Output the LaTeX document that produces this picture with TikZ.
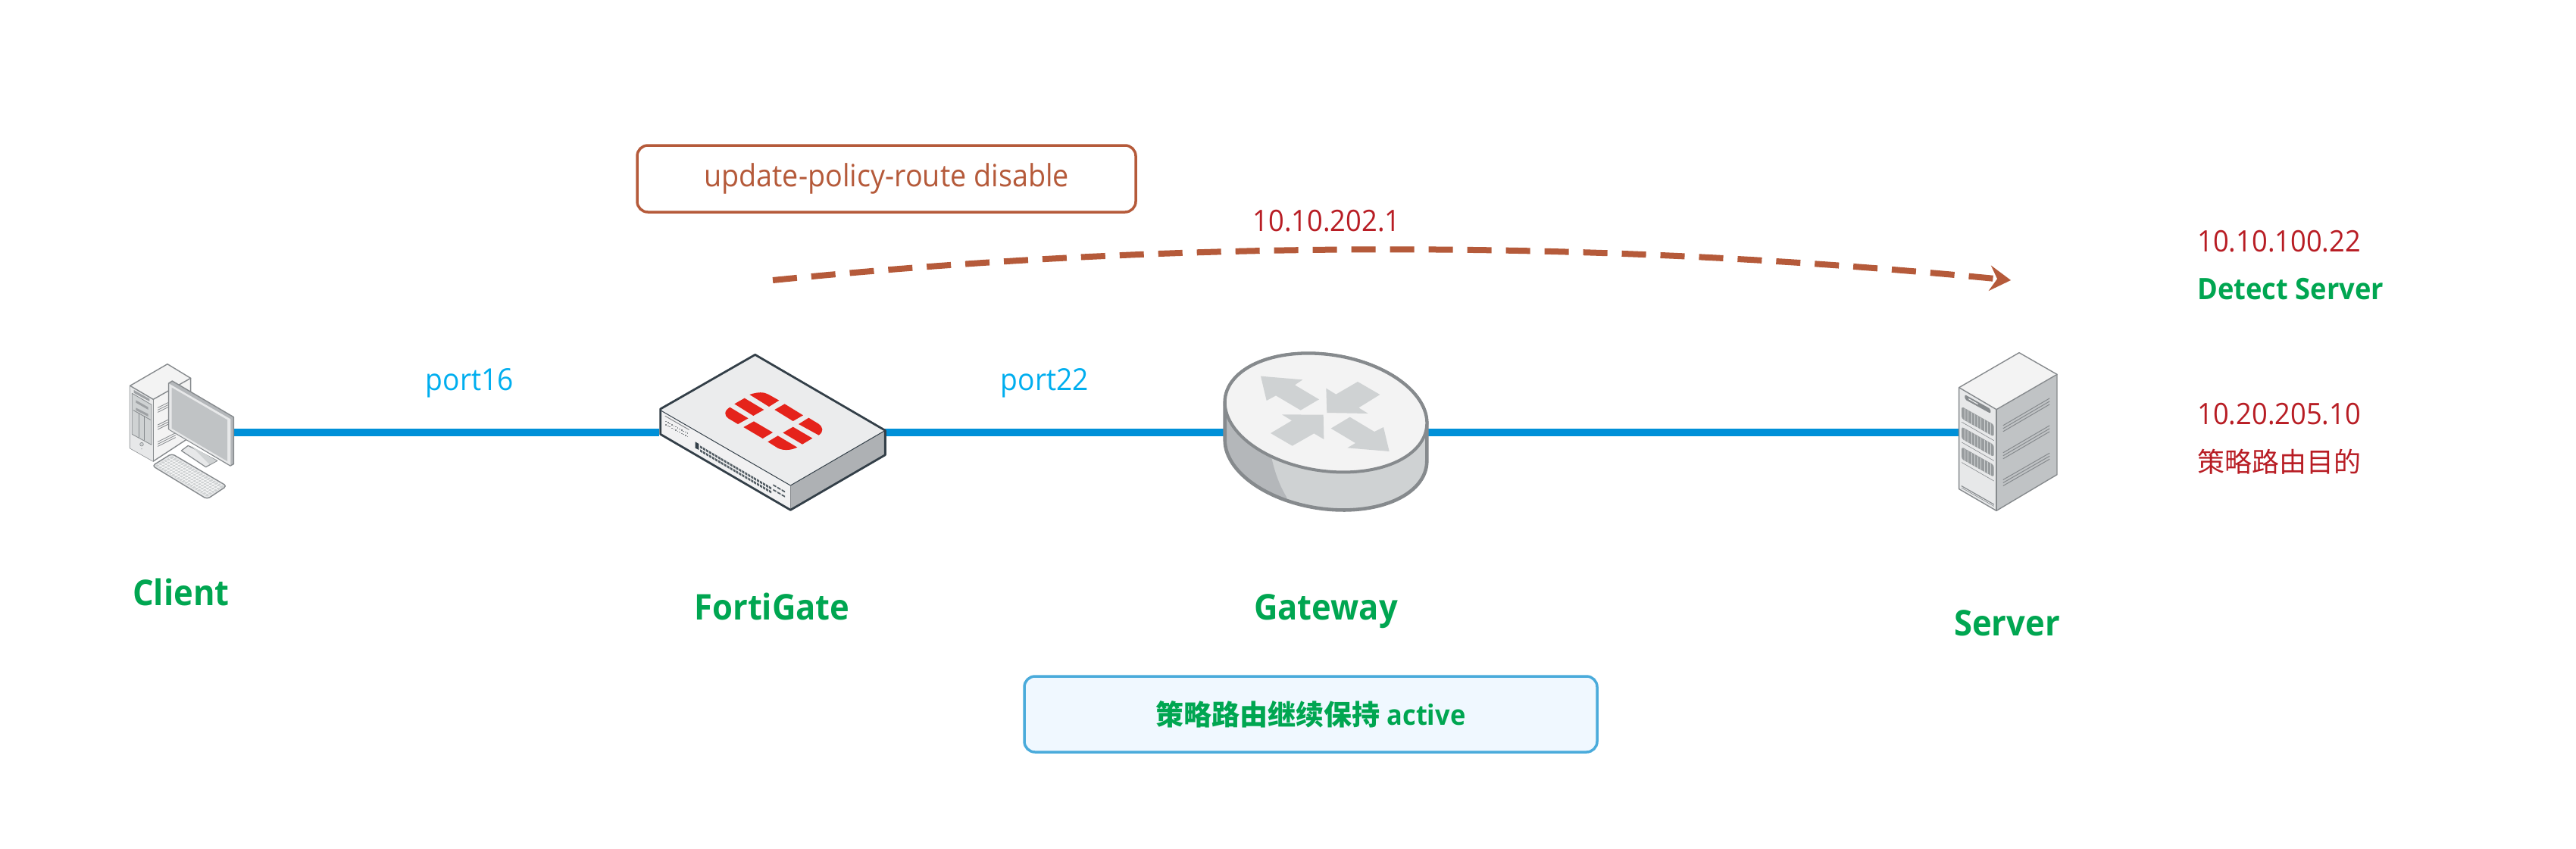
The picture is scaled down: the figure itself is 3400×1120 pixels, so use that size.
\documentclass[tikz,border=0pt]{standalone}
\usepackage{fontspec}
\setmainfont{Open Sans}
\newfontfamily\uifont[FakeStretch=0.93]{Open Sans}
\newfontfamily\zhfont{Noto Sans CJK SC}
\usetikzlibrary{arrows.meta,calc}
\definecolor{linkblue}{HTML}{0090D8}
\definecolor{brick}{HTML}{B55A3A}
\definecolor{okgreen}{HTML}{00A651}
\definecolor{addrred}{HTML}{B81D24}
\definecolor{portblue}{HTML}{00AEEF}
\definecolor{iconline}{HTML}{868A8D}
\definecolor{fwdark}{HTML}{333F48}
\definecolor{fwred}{HTML}{E5231B}
\definecolor{graytop}{HTML}{F3F3F3}
\definecolor{graypale}{HTML}{E7E8E9}
\definecolor{graymid}{HTML}{CFD2D3}
\definecolor{graydark}{HTML}{B4B7BA}
\definecolor{grayside}{HTML}{C0C3C5}
\definecolor{fwtop}{HTML}{EBECED}
\definecolor{fwfront}{HTML}{F1F1F2}
\definecolor{fwside}{HTML}{AEB1B4}
\definecolor{activeline}{HTML}{4AABDB}
\definecolor{activefill}{HTML}{F0F8FF}
\tikzset{
  pxgrid/.style={x=0.5pt,y=-0.5pt},
  icon/.style={x=0.166667pt,y=-0.166667pt,line join=round,line cap=round},
  link/.style={draw=linkblue,line width=5pt},
  devicebox/.style={inner sep=0pt,outer sep=0pt,minimum height=60pt},
  devname/.style={font=\uifont\bfseries\fontsize{23.4}{28}\selectfont,text=okgreen,inner sep=0pt},
  portlabel/.style={font=\uifont\fontsize{20}{24}\selectfont,text=portblue,inner sep=0pt},
  addr/.style={font=\uifont\fontsize{19.5}{24}\selectfont,text=addrred,inner sep=0pt},
  policybox/.style={draw=brick,line width=1.75pt,rounded corners=7pt,minimum width=329pt,minimum height=44pt,inner sep=0pt,outer sep=0pt,text=brick,font=\uifont\fontsize{20.3}{24}\selectfont},
  activebox/.style={draw=activeline,fill=activefill,line width=1.75pt,rounded corners=7pt,minimum width=378pt,minimum height=50pt,inner sep=0pt,outer sep=0pt,text=okgreen,font=\uifont\bfseries\fontsize{18.5}{22}\selectfont},
  routepath/.style={draw=brick,line width=4pt,dash pattern=on 16pt off 9.5pt},
  gline/.style={draw=iconline,line width=0.7pt},
}
\begin{document}
\begin{tikzpicture}[pxgrid,
  declare function={ex(\t)=480+403*cos(\t)*cos(8.7)-230*sin(\t)*sin(8.7);
                     ey(\t)=255+403*cos(\t)*sin(8.7)+230*sin(\t)*cos(8.7);}]
\useasboundingbox (0,0) rectangle (3400,1120);
\fill[white] (0,0) rectangle (3400,1120);

% anchors of the devices
\node[devicebox,minimum width=65pt]  (client) at (240,571) {};
\node[devicebox,minimum width=140pt] (fgt)    at (1010,571) {};
\node[devicebox,minimum width=135pt] (gw)     at (1750,571) {};
\node[devicebox,minimum width=40pt]  (srv)    at (2630,571) {};

% links
\draw[link] (client.east) -- (fgt.west);
\draw[link] (fgt.east) -- (gw.west);
\draw[link] (gw.east) -- (srv.west);

% client
\begin{scope}[shift={(120,420)},icon]
  \filldraw[fill=graytop,draw=iconline,line width=0.7pt] (155,268) -- (303,182) -- (395,238) -- (395,470) -- (247,567) -- (155,515) -- cycle;
  \fill[graypale] (155,268) -- (247,322) -- (247,567) -- (155,515) -- cycle;
  \draw[gline] (155,268) -- (247,322) -- (395,238);
  \draw[gline] (247,322) -- (247,567);
  \fill[iconline!80] (170,285) -- (232,320) -- (232,330) -- (170,296) -- cycle;
  \filldraw[fill=graymid,draw=iconline,line width=0.4pt] (163,298) -- (240,343) -- (240,502) -- (163,460) -- cycle;
  \fill[iconline!80] (178,325) -- (227,353) -- (227,363) -- (178,335) -- cycle;
  \fill[iconline!80] (178,355) -- (227,380) -- (227,390) -- (178,365) -- cycle;
  \draw[iconline,line width=0.4pt] (168,365) -- (236,403);
  \draw[iconline,line width=0.4pt] (189,377) -- (189,472) (210,389) -- (210,484);
  \filldraw[fill=graymid,draw=iconline,line width=0.3pt] (201,500) circle [radius=7];
  \fill[iconline] (201,518) circle [radius=2];
  \foreach \d in {0,9,18}{
    \draw[iconline,line width=0.4pt] (265,{355+\d}) -- (305,{335+\d});
    \draw[iconline,line width=0.4pt] (265,{423+\d}) -- (305,{403+\d});
    \draw[iconline,line width=0.4pt] (265,{490+\d}) -- (335,{455+\d});
  }
  % monitor stand
  \filldraw[fill=graypale,draw=iconline,line width=0.6pt] (358,525) -- (385,505) -- (500,565) -- (455,590) -- cycle;
  \fill[graymid] (395,505) -- (470,580) -- (498,565) -- cycle;
  % monitor
  \filldraw[fill=graydark,draw=iconline,line width=0.7pt] (308,258) -- (322,249) -- (565,392) -- (565,578) -- (552,585) -- (308,440) -- cycle;
  \fill[graypale] (310,260) -- (553,400) -- (553,583) -- (310,440) -- cycle;
  \fill[grayside] (320,275) -- (540,403) -- (540,567) -- (320,437) -- cycle;
  % keyboard
  \filldraw[fill=graypale,draw=iconline,line width=0.7pt,rounded corners=2pt] (243,585) -- (320,537) -- (538,665) -- (460,717) -- cycle;
  \coordinate (kp) at (255,585);
  \coordinate (kq) at (322,547);
  \coordinate (kr) at (528,667);
  \coordinate (ks) at (460,706);
  \fill[graymid] (kp) -- (kq) -- (kr) -- (ks) -- cycle;
  \foreach \k in {0.16,0.32,...,0.9}{\draw[white,line width=0.3pt] ($(kp)!\k!(kq)$) -- ($(ks)!\k!(kr)$);}
  \foreach \k in {0.05,0.1,...,0.97}{\draw[white,line width=0.3pt] ($(kp)!\k!(ks)$) -- ($(kq)!\k!(kr)$);}
\end{scope}

% FortiGate
\begin{scope}[shift={(850,440)},icon]
  \fill[fwfront] (65,300) -- (580,603) -- (580,700) -- (65,400) -- cycle;
  \fill[fwtop] (65,300) -- (440,85) -- (955,385) -- (580,603) -- cycle;
  \fill[fwside] (580,603) -- (955,385) -- (955,482) -- (580,700) -- cycle;
  \draw[fwdark,line width=0.5pt] (65,305) -- (580,603) -- (955,385);
  \draw[iconline,line width=0.4pt] (580,603) -- (580,700);
  \draw[fwdark,line width=1.4pt] (65,300) -- (440,85) -- (955,385) -- (955,482) -- (580,700) -- (65,400) -- cycle;
  % logo
  \fill[fwred] (418,243) .. controls (450,232) and (475,232) .. (492,242) -- (535,266) -- (495,291) -- cycle;
  \fill[fwred] (358,280) -- (398,257) -- (475,303) -- (433,327) -- cycle;
  \fill[fwred] (517,303) -- (557,280) -- (630,325) -- (590,348) -- cycle;
  \fill[fwred] (340,293) -- (413,337) -- (372,360) -- (335,338) .. controls (318,328) and (315,308) .. (340,293) -- cycle;
  \fill[fwred] (394,372) -- (435,349) -- (510,393) -- (470,417) -- cycle;
  \fill[fwred] (612,360) -- (652,335) -- (690,358) .. controls (710,372) and (712,390) .. (692,404) -- cycle;
  \fill[fwred] (550,394) -- (590,371) -- (667,416) -- (627,440) -- cycle;
  \fill[fwred] (490,430) -- (530,406) -- (607,452) .. controls (580,465) and (550,465) .. (530,455) -- cycle;
  % front panel
  \fill[fwdark] (203,430) -- (217,438) -- (217,462) -- (203,455) -- cycle;
  \foreach \i in {0,...,23}{
    \fill[fwdark!85] ({222+\i*11.87},{445+\i*6.96}) -- ++(9,5.2) -- ++(0,9) -- ++(-9,-5.2) -- cycle;
    \fill[fwdark!85] ({222+\i*11.87},{460+\i*6.96}) -- ++(9,5.2) -- ++(0,9) -- ++(-9,-5.2) -- cycle;
  }
  \foreach \i in {0,1,2}{
    \fill[fwdark!85] ({511+\i*17},{598+\i*10}) -- ++(13,7) -- ++(0,6) -- ++(-13,-7) -- cycle;
    \fill[fwdark!85] ({511+\i*17},{617+\i*10}) -- ++(13,7) -- ++(0,6) -- ++(-13,-7) -- cycle;
  }
  \foreach \i in {0,...,11}{
    \fill[iconline] ({85+\i*7.7},{348+\i*4.2}) rectangle ++(5,4);
    \fill[iconline] ({85+\i*7.7},{361+\i*4.2}) rectangle ++(5,4);
  }
  \draw[iconline,line width=0.5pt] (84,328) -- (178,382);
\end{scope}

% Gateway
\begin{scope}[shift={(1590,460)},icon]
  \path[fill=graymid,save path=\hullpath]
    plot[domain=-5:175,samples=60] ({ex(\x)},{ey(\x)+150}) -- plot[domain=175:355,samples=60] ({ex(\x)},{ey(\x)}) -- cycle;
  \begin{scope}
    \clip[use path=\hullpath];
    \fill[graydark] (0,150) -- (200,150) -- (265,435) .. controls (280,500) and (300,550) .. (325,590) -- (325,700) -- (0,700) -- cycle;
  \end{scope}
  \draw[iconline,line width=2.3pt,use path=\hullpath];
  \filldraw[fill=graytop,draw=iconline,line width=2pt] plot[domain=0:360,samples=120] ({ex(\x)},{ey(\x)}) -- cycle;
  \fill[graymid] (222,110) -- (388,124) -- (357,145) -- (453,202) -- (380,245) -- (282,187) -- (245,207) -- cycle;
  \fill[graymid] (481,158) -- (520,182) -- (606,132) -- (694,183) -- (610,235) -- (647,258) -- (484,255) -- cycle;
  \fill[graymid] (470,263) -- (472,360) -- (433,337) -- (347,386) -- (261,336) -- (345,286) -- (306,262) -- cycle;
  \fill[graymid] (708,312) -- (731,408) -- (565,394) -- (597,375) -- (500,317) -- (575,272) -- (672,330) -- cycle;
\end{scope}

% Server
\begin{scope}[shift={(2540,440)},icon]
  \fill[graypale] (137,215) -- (285,302) -- (285,703) -- (137,617) -- cycle;
  \fill[graytop] (137,215) -- (375,77) -- (525,163) -- (285,302) -- cycle;
  \fill[grayside] (285,302) -- (525,163) -- (525,560) -- (285,703) -- cycle;
  \draw[gline] (137,215) -- (285,302) -- (525,163);
  \draw[gline] (285,302) -- (285,703);
  \draw[gline] (137,215) -- (375,77) -- (525,163) -- (525,560) -- (285,703) -- (137,617) -- cycle;
  \foreach \d in {0,12,24}{
    \draw[iconline,line width=0.5pt] (312,{365+\d}) -- (495,{258+\d});
    \draw[iconline,line width=0.5pt] (312,{473+\d}) -- (495,{366+\d});
    \draw[iconline,line width=0.5pt] (312,{580+\d}) -- (495,{475+\d});
  }
  \fill[iconline,rounded corners=1pt] (160,243) -- (262,300) -- (262,318) -- (160,262) -- cycle;
  \fill[graypale] (175,258) -- (212,279) -- (212,283) -- (175,262) -- cycle;
  \foreach \y in {290,370,450}{
    \fill[iconline!85,rounded corners=1.5pt] (147,\y) -- (275,{\y+72}) -- (275,{\y+120}) -- (147,{\y+48}) -- cycle;
    \foreach \i in {1,...,9}{
      \draw[graymid,line width=0.25pt] ({147+\i*12.8},{\y+2+\i*7.2}) -- ++(0,46);
    }
    \draw[iconline,line width=0.3pt] (148,{\y+62}) -- (275,{\y+135});
  }
  \draw[iconline,line width=0.6pt] (147,605) -- (275,678);
  \draw[iconline,line width=0.3pt] (147,612) -- (275,685);
\end{scope}

% policy route
\coordinate (routestart) at (1020,370);
\coordinate (routeend) at (2654,370);
\coordinate (routec1) at (1560,316);
\coordinate (routec2) at (2100,316);
\draw[routepath,-{Stealth[length=14pt,width=17pt,inset=5pt,line width=0pt]}] (routestart) .. controls (routec1) and (routec2) .. (routeend);

% boxes
\node[policybox] (policy) at (1170,236) {update-policy-route disable};
\node[activebox] (active) at (1730,943) {{\zhfont\bfseries 策略路由继续保持} active};

% labels
\node[portlabel] (p16) at (620,506) {port16};
\node[portlabel] (p22) at (1379,506) {port22};
\node[addr] (gwip) at (1751,292) {10.10.202.1};
\node[addr,anchor=west] (detip) at (2900,319) {10.10.100.22};
\node[devname,anchor=west,font=\uifont\bfseries\fontsize{19.5}{24}\selectfont] (det) at (2900,382) {Detect Server};
\node[addr,anchor=west] (dstip) at (2900,547) {10.20.205.10};
\node[addr,anchor=west,font=\zhfont\fontsize{18}{22}\selectfont] (dst) at (2900,610) {策略路由目的};
\node[devname] (nclient) at (239,782) {Client};
\node[devname] (nfgt) at (1019,801) {FortiGate};
\node[devname] (ngw) at (1750,807) {Gateway};
\node[devname] (nsrv) at (2649,823) {Server};
\end{tikzpicture}
\end{document}
